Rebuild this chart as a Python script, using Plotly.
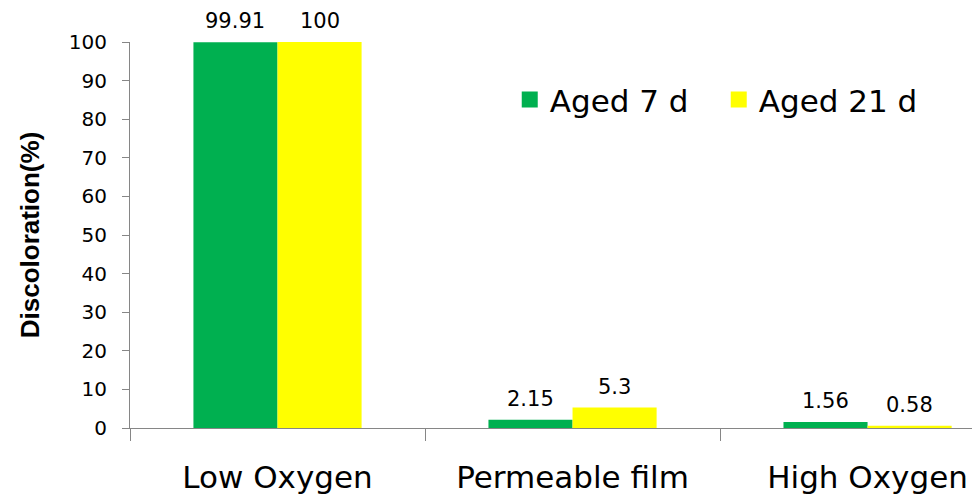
import plotly.graph_objects as go

categories = ["Low Oxygen", "Permeable film", "High Oxygen"]
aged_7 = [99.91, 2.15, 1.56]
aged_21 = [100, 5.3, 0.58]
labels_7 = ["99.91", "2.15", "1.56"]
labels_21 = ["100", "5.3", "0.58"]
y_ticks = list(range(0, 101, 10))

GREEN = "#00B050"
YELLOW = "#FFFF00"
AXIS = "#868686"
BARGAP = 0.43
BAR_W = (1 - BARGAP) / 2
NUM_FONT = dict(family="DejaVu Sans", size=20, color="#000000")
LBL_FONT = dict(family="DejaVu Sans", size=21, color="#000000")

fig = go.Figure()
fig.add_trace(go.Bar(x=categories, y=aged_7, name="Aged 7 d",
                     marker=dict(color=GREEN, line_width=0), showlegend=False))
fig.add_trace(go.Bar(x=categories, y=aged_21, name="Aged 21 d",
                     marker=dict(color=YELLOW, line_width=0), showlegend=False))
# legend entries with larger square swatches
fig.add_trace(go.Scatter(x=[None], y=[None], mode="markers", name="Aged 7 d",
                         marker=dict(symbol="square", size=17, color=GREEN)))
fig.add_trace(go.Scatter(x=[None], y=[None], mode="markers", name="Aged 21 d",
                         marker=dict(symbol="square", size=17, color=YELLOW)))

# data labels above each bar (category index +/- half a bar)
for i in range(len(categories)):
    for vals, labs, sign in ((aged_7, labels_7, -1), (aged_21, labels_21, 1)):
        fig.add_annotation(x=i + sign * BAR_W / 2, y=vals[i], xref="x", yref="y",
                           text=labs[i], showarrow=False, yanchor="bottom",
                           yshift=7, font=LBL_FONT)

fig.update_layout(
    width=974, height=497,
    margin=dict(l=130, r=2, t=42, b=69),
    paper_bgcolor="white", plot_bgcolor="white",
    barmode="group", bargap=BARGAP, bargroupgap=0,
    legend=dict(orientation="h", x=0.451, y=0.85, xanchor="left", yanchor="middle",
                font=dict(family="DejaVu Sans", size=31, color="#000000"),
                bgcolor="rgba(0,0,0,0)", itemwidth=30, traceorder="normal",
                entrywidth=164, entrywidthmode="pixels"),
)
fig.update_xaxes(
    type="category", range=[-0.5, 2.354],
    showline=True, linecolor=AXIS, linewidth=1,
    ticks="outside", tickson="boundaries", ticklen=12, tickcolor=AXIS,
    tickfont=dict(family="DejaVu Sans", size=31, color="#000000"),
    ticklabelstandoff=22,
    showgrid=False, zeroline=False,
)
fig.update_yaxes(
    range=[0, 100], tickvals=y_ticks,
    showline=True, linecolor=AXIS, linewidth=1,
    ticks="outside", ticklen=7, tickcolor=AXIS,
    tickfont=NUM_FONT, ticklabelstandoff=11,
    showgrid=False, zeroline=False,
    title=dict(text="<b>Discoloration(%)</b>",
               font=dict(family="Liberation Sans, Arial", size=26, color="#000000"),
               standoff=21),
)

fig.write_html("out.html", config={"displayModeBar": False},
               post_script="document.body.style.margin='0';document.body.style.overflow='hidden';")
